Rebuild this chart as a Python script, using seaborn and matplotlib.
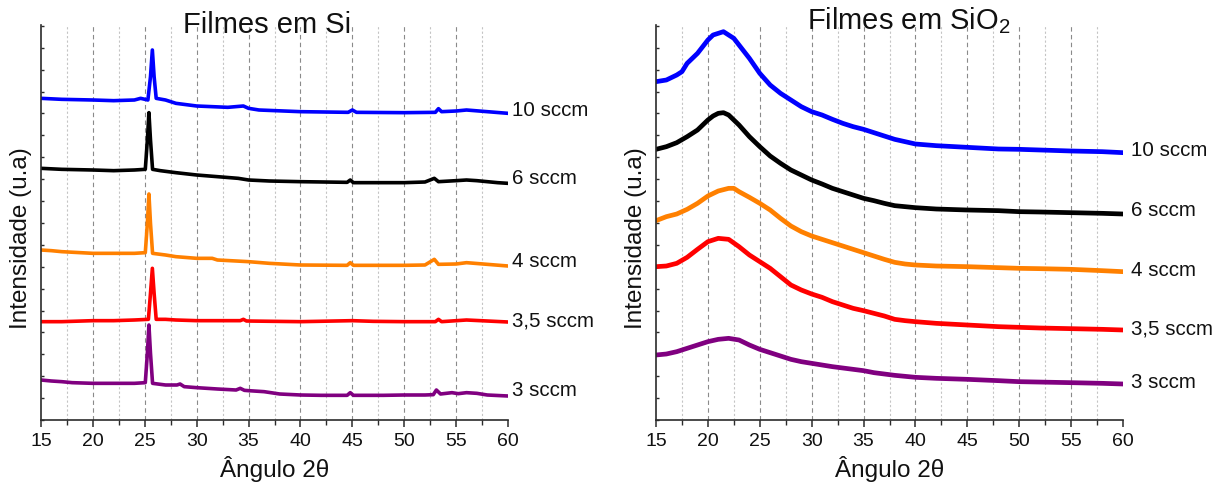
import numpy as np
import pandas as pd
import matplotlib
matplotlib.use("Agg")
import matplotlib.pyplot as plt
from matplotlib.ticker import MultipleLocator
import seaborn as sns

# ---------------- data: XRD patterns (offset, arbitrary units) ----------------
series_names = ["10 sccm", "6 sccm", "4 sccm", "3,5 sccm", "3 sccm"]
series_colors = ["#0000ff", "#000000", "#ff8000", "#ff0000", "#800080"]

# Films on Si
si_10_x = [15, 17, 20, 22, 24, 24.6, 25.3, 25.55, 25.73, 25.9, 26.1, 27, 28, 30, 33, 34.5, 35, 36, 40,
           44.6, 45, 45.4, 50, 53, 53.3, 53.6, 55, 56, 58, 60]
si_10_y = [965, 962, 960, 958, 960, 965, 960, 1030, 1110, 1030, 965, 960, 950, 942, 938, 942, 935, 930, 925,
           923, 930, 923, 922, 923, 934, 925, 927, 930, 925, 920]

si_6_x = [15, 17, 20, 22, 24, 25.05, 25.25, 25.4, 25.55, 25.75, 26.5, 28, 30, 32, 34, 35, 37, 40,
          44.5, 44.8, 45.1, 48, 50, 52, 52.9, 53.3, 55, 56, 57, 58, 59, 60]
si_6_y = [755, 752, 750, 748, 750, 752, 840, 922, 840, 752, 748, 742, 735, 730, 725, 720, 717, 715,
          713, 720, 712, 712, 712, 714, 725, 715, 718, 720, 718, 715, 712, 710]

si_4_x = [15, 16, 17, 20, 22, 24, 25.05, 25.25, 25.4, 25.55, 25.75, 27, 28, 30, 31.5, 32, 35, 37, 40,
          44.5, 44.8, 45.1, 50, 52, 52.9, 53.3, 55, 56, 58, 60]
si_4_y = [510, 508, 505, 500, 500, 500, 502, 590, 678, 590, 500, 495, 490, 485, 485, 480, 475, 470, 465,
          464, 472, 464, 464, 465, 482, 467, 468, 472, 467, 462]

si_35_x = [15, 17, 20, 22, 24, 25.35, 25.55, 25.73, 25.9, 26.1, 27, 28, 30, 34.2, 34.5, 34.8, 40,
           45, 47, 50, 53.0, 53.3, 53.6, 56, 58, 60]
si_35_y = [295, 295, 298, 298, 300, 302, 380, 455, 380, 302, 302, 300, 298, 298, 302, 297, 295,
           298, 296, 295, 295, 302, 295, 300, 297, 294]

si_3_x = [15, 16, 17, 18, 20, 22, 24, 25.05, 25.25, 25.4, 25.55, 25.75, 27, 28.1, 28.4, 28.8, 30, 32,
          33.8, 34.2, 34.6, 35, 36.5, 38, 40, 42, 44.5, 44.8, 45.1, 48, 50, 52, 52.8, 53.1, 53.5,
          54.6, 55.2, 56, 57, 58, 60]
si_3_y = [120, 117, 115, 112, 110, 110, 110, 112, 200, 285, 200, 110, 105, 105, 108, 100, 97, 93,
          90, 95, 89, 88, 85, 78, 75, 74, 74, 82, 74, 74, 75, 75, 76, 90, 78,
          82, 79, 82, 80, 75, 72]

# Films on SiO2
sio2_10_x = [15, 16, 17, 17.5, 18, 19, 20, 20.5, 21, 21.5, 22, 22.5, 23, 24, 25, 26, 27, 28, 29, 30,
             31, 32, 33, 34, 35, 36, 37, 38, 39, 40, 42, 45, 48, 50, 52, 55, 58, 60]
sio2_10_y = [1015, 1020, 1035, 1045, 1070, 1100, 1140, 1155, 1160, 1165, 1155, 1145, 1125, 1085, 1040,
             1005, 980, 960, 940, 925, 915, 902, 890, 880, 872, 862, 852, 842, 835, 828, 823, 818,
             813, 812, 810, 807, 805, 802]

sio2_6_x = [15, 16, 17, 18, 19, 20, 20.5, 21, 21.5, 22, 23, 24, 25, 26, 27, 28, 29, 30, 31, 32, 33,
            34, 35, 36, 37, 38, 39, 40, 42, 45, 48, 50, 52, 55, 58, 60]
sio2_6_y = [812, 820, 832, 850, 870, 900, 912, 920, 922, 915, 885, 850, 820, 792, 770, 750, 735, 720,
            708, 695, 685, 675, 665, 658, 650, 643, 640, 637, 633, 630, 628, 625, 624, 622, 620, 618]

sio2_4_x = [15, 16, 17, 18, 19, 20, 21, 22, 22.5, 23, 24, 25, 26, 27, 28, 29, 30, 31, 32, 33, 34, 35,
            36, 37, 38, 39, 40, 42, 45, 48, 50, 52, 55, 58, 60]
sio2_4_y = [598, 610, 618, 632, 650, 672, 687, 695, 695, 685, 668, 650, 630, 605, 582, 565, 552, 542,
            532, 522, 512, 502, 492, 482, 473, 468, 465, 462, 460, 457, 455, 454, 452, 448, 445]

sio2_35_x = [15, 16, 17, 18, 19, 20, 21, 22, 23, 24, 25, 26, 27, 28, 29, 30, 31, 32, 33, 34, 35, 36,
             37, 38, 39, 40, 42, 45, 48, 50, 52, 55, 58, 60]
sio2_35_y = [460, 462, 470, 488, 512, 535, 545, 542, 520, 495, 475, 455, 430, 405, 390, 378, 368, 355,
             345, 335, 328, 320, 312, 302, 298, 295, 290, 285, 280, 278, 276, 274, 272, 270]

sio2_3_x = [15, 16, 17, 18, 19, 20, 21, 22, 23, 24, 25, 26, 27, 28, 29, 30, 32, 34, 35, 36, 38, 40,
            42, 45, 48, 50, 55, 58, 60]
sio2_3_y = [195, 198, 205, 215, 225, 235, 242, 245, 240, 225, 212, 202, 192, 182, 175, 170, 160, 152,
            148, 142, 134, 128, 125, 122, 118, 115, 112, 110, 108]

x_ticks = [15, 20, 25, 30, 35, 40, 45, 50, 55, 60]


def long_frame(xs, ys):
    parts = []
    for name, x, y in zip(series_names, xs, ys):
        parts.append(pd.DataFrame({"angle": x, "intensity": y, "amostra": name}))
    return pd.concat(parts, ignore_index=True)


si_df = long_frame([si_10_x, si_6_x, si_4_x, si_35_x, si_3_x],
                   [si_10_y, si_6_y, si_4_y, si_35_y, si_3_y])
sio2_df = long_frame([sio2_10_x, sio2_6_x, sio2_4_x, sio2_35_x, sio2_3_x],
                     [sio2_10_y, sio2_6_y, sio2_4_y, sio2_35_y, sio2_3_y])

# ---------------- style ----------------
sns.set_theme(style="white")
plt.rcParams["font.family"] = ["Liberation Sans", "DejaVu Sans"]
plt.rcParams["mathtext.fontset"] = "custom"
plt.rcParams["mathtext.rm"] = "Liberation Sans"
plt.rcParams["mathtext.it"] = "Liberation Sans:italic"
plt.rcParams["mathtext.bf"] = "Liberation Sans:bold"

fig = plt.figure(figsize=(12.25, 4.9), dpi=100)
ax_l = fig.add_axes([41 / 1225, 1 - 420 / 490, 467 / 1225, 395 / 490])
ax_r = fig.add_axes([656 / 1225, 1 - 420 / 490, 467 / 1225, 395 / 490])

palette = dict(zip(series_names, series_colors))


def style_axes(ax, df, lw, label_dx, label_dy):
    sns.lineplot(data=df, x="angle", y="intensity", hue="amostra", palette=palette,
                 sort=False, estimator=None, linewidth=lw, legend=False, ax=ax)
    ax.set_xlim(15, 60)
    ax.set_ylim(0, 1185)
    ax.set_xticks(x_ticks)
    ax.xaxis.set_minor_locator(MultipleLocator(2.5))
    ax.yaxis.set_major_locator(MultipleLocator(65.7))
    ax.yaxis.set_major_formatter(plt.NullFormatter())
    for s in ["top", "right"]:
        ax.spines[s].set_visible(False)
    for s in ["left", "bottom"]:
        ax.spines[s].set_color("#2b2b2b")
        ax.spines[s].set_linewidth(1.2)
    ax.tick_params(axis="x", which="major", direction="out", length=5, width=1.1,
                   color="#2b2b2b", labelcolor="#111111", labelsize=14, pad=4, bottom=True)
    ax.tick_params(axis="x", which="minor", direction="out", length=3.5, width=1.0,
                   color="#2b2b2b", bottom=True)
    ax.tick_params(axis="y", which="both", direction="in", length=2.5, width=1.0,
                   color="#2b2b2b", left=True)
    ax.grid(False)
    ax.grid(True, axis="x", which="major", color="#8a8a8a", linestyle=(0, (4, 3)), linewidth=0.8)
    ax.grid(True, axis="x", which="minor", color="#c4c4c4", linestyle=(0, (2, 2)), linewidth=0.8)
    fig.canvas.draw()
    for gl in ax.get_xgridlines():
        xv = gl.get_xdata()[0]
        if xv <= 15 or xv >= 60:
            gl.set_visible(False)
    ax.set_xlabel("Ângulo 2θ", fontsize=17.5, labelpad=5, color="#111111")
    ax.set_ylabel("Intensidade (u.a)", fontsize=17.5, color="#111111")
    ax.yaxis.set_label_coords(-0.02, 0.46)
    # curve labels at the line ends
    for name, dy in zip(series_names, label_dy):
        sub = df[df["amostra"] == name]
        xe = sub["angle"].iloc[-1]
        ye = sub["intensity"].iloc[-1]
        ax.annotate(name, xy=(xe, ye), xytext=(label_dx, dy), textcoords="offset points",
                    ha="left", va="center", fontsize=14.8, color="#111111",
                    annotation_clip=False)


style_axes(ax_l, si_df, 2.6, 3, [2, 3.5, 3.5, 1, 4])
style_axes(ax_r, sio2_df, 3.4, 6, [1.5, 2.5, 0.5, 1, 1])

ax_l.text(28.7, 0.98, "Filmes em Si", transform=ax_l.get_xaxis_transform(),
          fontsize=21, ha="left", va="baseline", color="#111111")
ax_r.text(29.55, 0.99, r"Filmes em SiO$_{\mathregular{2}}$", transform=ax_r.get_xaxis_transform(),
          fontsize=21, ha="left", va="baseline", color="#111111")

fig.savefig("out.png", dpi=100)
